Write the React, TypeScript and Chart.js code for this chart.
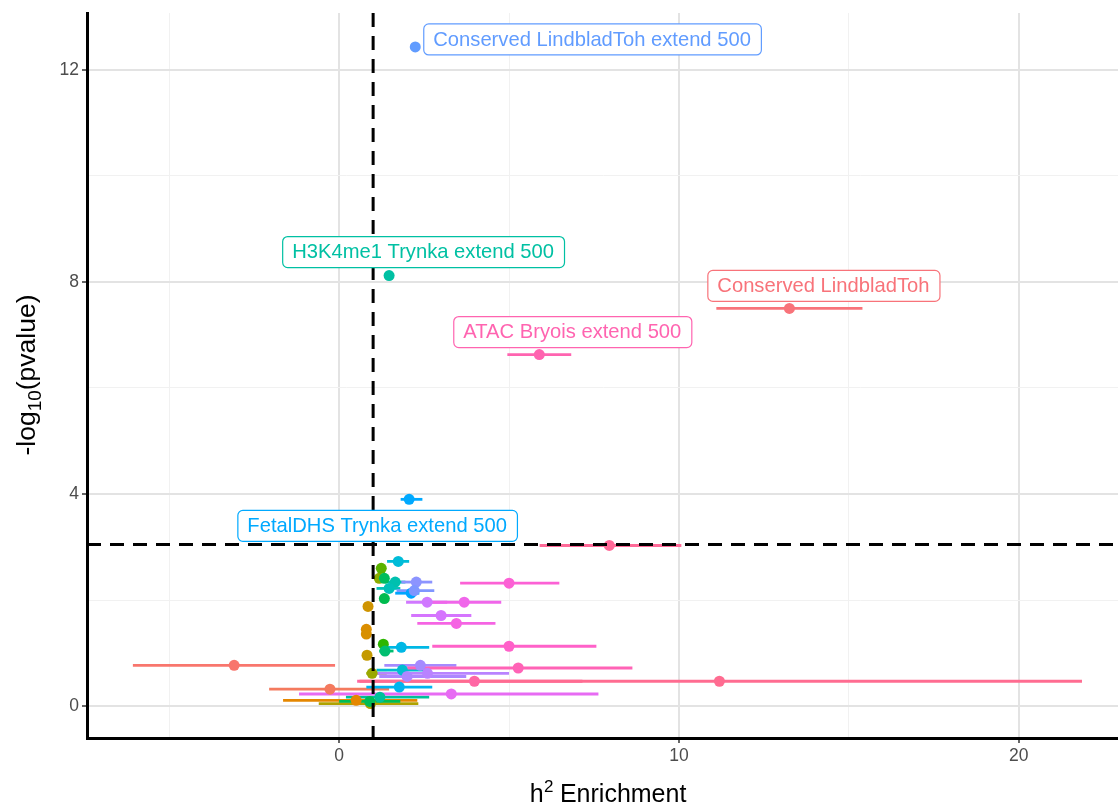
import React, { useEffect, useRef } from 'react';
import { Chart, registerables } from 'chart.js';

Chart.register(...registerables);

// ---------- data ----------
const enrichment = [
  -3.09, -0.27, 0.5, 0.85, 0.8, 0.8, 0.82, 0.92, 1.18, 0.97,
  1.24, 1.3, 1.33, 1.33, 1.35, 0.9, 1.47, 1.65, 1.47, 1.2,
  1.74, 1.83, 1.77, 1.86, 2.06, 2.12, 2.24, 2.27, 2.21, 2.39,
  2.6, 2.0, 2.59, 3.0, 3.3, 3.68, 3.45, 5.0, 5.0, 5.27,
  5.89, 3.98, 7.95, 11.19, 13.25,
];
const negLog10P = [
  0.77, 0.32, 0.11, 1.88, 1.45, 1.36, 0.96, 0.05, 2.41, 0.62,
  2.6, 1.17, 2.03, 2.41, 1.04, 0.09, 8.12, 2.34, 2.22, 0.17,
  2.73, 1.11, 0.36, 0.68, 3.9, 2.13, 12.43, 2.34, 2.18, 0.77,
  0.62, 0.56, 1.96, 1.71, 0.23, 1.96, 1.56, 2.32, 1.13, 0.72,
  6.63, 0.47, 3.03, 0.47, 7.5,
];
const enrichmentLow = [
  -6.07, -2.06, -1.65, 0.75, 0.72, 0.72, 0.74, -0.6, 1.1, 0.8,
  1.16, 1.2, 1.25, 1.25, 1.18, 0.0, 1.4, 1.35, 1.1, 0.2,
  1.41, 1.27, 0.8, 1.1, 1.81, 1.65, 2.2, 1.83, 1.69, 1.33,
  1.03, 1.18, 1.97, 2.12, -1.18, 2.65, 2.3, 3.56, 2.74, 2.0,
  4.95, 0.53, 5.9, 0.6, 11.1,
];
const enrichmentHigh = [
  -0.12, 1.47, 2.3, 0.95, 0.88, 0.88, 0.9, 2.33, 1.26, 1.4,
  1.32, 1.4, 1.41, 1.41, 1.6, 1.8, 1.55, 1.95, 1.8, 2.65,
  2.06, 2.65, 2.74, 2.6, 2.45, 2.36, 2.28, 2.74, 2.8, 3.45,
  5.0, 3.74, 3.18, 3.89, 7.63, 4.77, 4.6, 6.48, 7.57, 8.63,
  6.83, 7.16, 10.07, 21.86, 15.4,
];
const pointColors = [
  '#F8766D', '#F47A5E', '#E58700', '#CF9400', '#DB8E00', '#D89000', '#C49A00', '#AFA200', '#8CAB00', '#9AA800',
  '#5BB300', '#2DB600', '#00BB4E', '#00BD5C', '#00BE70', '#00BC56', '#00C0A3', '#00C0AF', '#00C0B8', '#00C19A',
  '#00BCD8', '#00B8E5', '#00B4EF', '#00BDD0', '#00A9FF', '#00A5FF', '#619CFF', '#8C94FF', '#7F96FF', '#A58AFF',
  '#B983FF', '#AD87FF', '#D078FF', '#D575FE', '#E76BF3', '#F066EA', '#F564E3', '#FC61D5', '#FF61C9', '#FF63B6',
  '#FF64B0', '#FF67A4', '#FF6A98', '#FF6C91', '#F8737A',
];

const labelTexts = [
  'Conserved LindbladToh extend 500',
  'H3K4me1 Trynka extend 500',
  'Conserved LindbladToh',
  'ATAC Bryois extend 500',
  'FetalDHS Trynka extend 500',
];
const labelPointIndex = [26, 16, 44, 40, 24];

const xTickValues = [-5, 0, 5, 10, 15, 20];
const xMajorTicks = [0, 10, 20];
const yTickValues = [0, 2, 4, 6, 8, 10, 12];
const yMajorTicks = [0, 4, 8, 12];

const enrichmentNull = 1;
const pThreshold = 3.05;

// ---------- styles ----------
const FONT = '"Liberation Sans", Arial, sans-serif';
// label box placement relative to its point (pixels): [anchor, dx, dy]
const labelPlacement: Array<[string, number, number]> = [
  ['left', 8, -8],
  ['center', 34, -24],
  ['center', 34, -23],
  ['center', 33, -23],
  ['center', -32, 26],
];

const errorBarPlugin = {
  id: 'errorBars',
  beforeDatasetsDraw(chart: any) {
    const { ctx, chartArea, scales } = chart;
    ctx.save();
    ctx.beginPath();
    ctx.rect(chartArea.left, chartArea.top, chartArea.right - chartArea.left, chartArea.bottom - chartArea.top);
    ctx.clip();
    ctx.lineWidth = 2.8;
    ctx.lineCap = 'butt';
    for (let i = 0; i < enrichment.length; i++) {
      const y = scales.y.getPixelForValue(negLog10P[i]);
      const x1 = scales.x.getPixelForValue(enrichmentLow[i]);
      const x2 = scales.x.getPixelForValue(enrichmentHigh[i]);
      ctx.strokeStyle = pointColors[i];
      ctx.beginPath();
      ctx.moveTo(x1, y);
      ctx.lineTo(x2, y);
      ctx.stroke();
    }
    ctx.restore();
  },
};

function roundRect(ctx: CanvasRenderingContext2D, x: number, y: number, w: number, h: number, r: number) {
  ctx.beginPath();
  ctx.moveTo(x + r, y);
  ctx.lineTo(x + w - r, y);
  ctx.arcTo(x + w, y, x + w, y + r, r);
  ctx.lineTo(x + w, y + h - r);
  ctx.arcTo(x + w, y + h, x + w - r, y + h, r);
  ctx.lineTo(x + r, y + h);
  ctx.arcTo(x, y + h, x, y + h - r, r);
  ctx.lineTo(x, y + r);
  ctx.arcTo(x, y, x + r, y, r);
  ctx.closePath();
}

const overlayPlugin = {
  id: 'overlay',
  afterDatasetsDraw(chart: any) {
    const { ctx, chartArea, scales } = chart;
    ctx.save();
    ctx.beginPath();
    ctx.rect(chartArea.left, chartArea.top, chartArea.right - chartArea.left, chartArea.bottom - chartArea.top);
    ctx.clip();
    // reference lines
    ctx.strokeStyle = '#000000';
    ctx.lineWidth = 3;
    ctx.setLineDash([14, 9]);
    const vx = scales.x.getPixelForValue(enrichmentNull);
    ctx.beginPath();
    ctx.moveTo(vx, chartArea.top);
    ctx.lineTo(vx, chartArea.bottom);
    ctx.stroke();
    const hy = scales.y.getPixelForValue(pThreshold);
    ctx.beginPath();
    ctx.moveTo(chartArea.left, hy);
    ctx.lineTo(chartArea.right, hy);
    ctx.stroke();
    ctx.setLineDash([]);
    ctx.restore();

    // labels
    ctx.save();
    ctx.font = `20.2px ${FONT}`;
    ctx.textBaseline = 'middle';
    ctx.textAlign = 'left';
    for (let k = 0; k < labelTexts.length; k++) {
      const i = labelPointIndex[k];
      const px = scales.x.getPixelForValue(enrichment[i]);
      const py = scales.y.getPixelForValue(negLog10P[i]);
      const [anchor, dx, dy] = labelPlacement[k];
      const tw = ctx.measureText(labelTexts[k]).width;
      const bw = tw + 20;
      const bh = 31;
      const cy = py + dy;
      const left = anchor === 'left' ? px + dx : px + dx - bw / 2;
      const top = cy - bh / 2;
      roundRect(ctx, left + 0.5, top + 0.5, bw, bh, 5);
      ctx.fillStyle = '#ffffff';
      ctx.fill();
      ctx.strokeStyle = pointColors[i];
      ctx.lineWidth = 1.2;
      ctx.stroke();
      ctx.fillStyle = pointColors[i];
      ctx.fillText(labelTexts[k], left + 10, cy + 1);
    }
    ctx.restore();
  },
  afterDraw(chart: any) {
    const { ctx } = chart;
    ctx.save();
    ctx.fillStyle = '#000000';
    ctx.textBaseline = 'alphabetic';
    // x title: h^2 Enrichment
    const big = `25px ${FONT}`;
    const small = `17px ${FONT}`;
    ctx.font = big;
    const wH = ctx.measureText('h').width;
    const wRest = ctx.measureText(' Enrichment').width;
    ctx.font = small;
    const w2 = ctx.measureText('2').width;
    const total = wH + w2 + wRest;
    const x0 = 608 - total / 2;
    const base = 802;
    ctx.font = big;
    ctx.textAlign = 'left';
    ctx.fillText('h', x0, base);
    ctx.font = small;
    ctx.fillText('2', x0 + wH + 0.5, base - 10);
    ctx.font = big;
    ctx.fillText(' Enrichment', x0 + wH + w2, base);

    // y title: -log10(pvalue)
    ctx.translate(35, 375);
    ctx.rotate(-Math.PI / 2);
    const bigY = `26.5px ${FONT}`;
    const smallY = `19px ${FONT}`;
    ctx.font = bigY;
    const a = ctx.measureText('-log').width;
    const c = ctx.measureText('(pvalue)').width;
    ctx.font = smallY;
    const b = ctx.measureText('10').width;
    const tot = a + b + c;
    const s = -tot / 2;
    ctx.font = bigY;
    ctx.fillText('-log', s, 0);
    ctx.font = smallY;
    ctx.fillText('10', s + a, 6);
    ctx.font = bigY;
    ctx.fillText('(pvalue)', s + a + b, 0);
    ctx.restore();
  },
};

export default function App() {
  const canvasRef = useRef<HTMLCanvasElement | null>(null);

  useEffect(() => {
    document.body.style.margin = '0';
    const canvas = canvasRef.current;
    if (!canvas) return;
    const chart = new Chart(canvas, {
      type: 'scatter',
      data: {
        datasets: [
          {
            data: enrichment.map((x, i) => ({ x, y: negLog10P[i] })),
            backgroundColor: pointColors,
            borderWidth: 0,
            pointRadius: 5.5,
            pointHoverRadius: 5.5,
          },
        ],
      },
      options: {
        responsive: false,
        animation: false,
        events: [],
        layout: { autoPadding: false, padding: { top: 13, right: 0, bottom: 0, left: 0 } },
        plugins: {
          legend: { display: false },
          tooltip: { enabled: false },
          title: { display: false },
        },
        scales: {
          x: {
            type: 'linear',
            min: -7.42,
            max: 22.92,
            afterFit(scale: any) {
              scale.height = 69;
              scale.paddingLeft = 0;
              scale.paddingRight = 0;
            },
            afterBuildTicks(scale: any) {
              scale.ticks = xTickValues.map((v) => ({ value: v }));
            },
            ticks: {
              autoSkip: false,
              maxRotation: 0,
              padding: 3,
              color: '#4D4D4D',
              font: { family: FONT, size: 17.5 },
              callback: (v: any) => (xMajorTicks.includes(Number(v)) ? String(v) : ''),
            },
            grid: {
              color: (c: any) => (xMajorTicks.includes(c.tick?.value) ? '#E3E3E3' : '#F1F1F1'),
              lineWidth: (c: any) => (xMajorTicks.includes(c.tick?.value) ? 2 : 1),
              tickColor: (c: any) => (xMajorTicks.includes(c.tick?.value) ? '#333333' : 'rgba(0,0,0,0)'),
              tickLength: 5,
              tickWidth: 1.5,
            },
            border: { display: true, color: '#000000', width: 3 },
          },
          y: {
            type: 'linear',
            min: -0.6,
            max: 13.07,
            afterFit(scale: any) {
              scale.width = 87;
              scale.paddingTop = 0;
              scale.paddingBottom = 0;
            },
            afterBuildTicks(scale: any) {
              scale.ticks = yTickValues.map((v) => ({ value: v }));
            },
            ticks: {
              autoSkip: false,
              padding: 3,
              color: '#4D4D4D',
              font: { family: FONT, size: 17.5 },
              callback: (v: any) => (yMajorTicks.includes(Number(v)) ? String(v) : ''),
            },
            grid: {
              color: (c: any) => (yMajorTicks.includes(c.tick?.value) ? '#E3E3E3' : '#F1F1F1'),
              lineWidth: (c: any) => (yMajorTicks.includes(c.tick?.value) ? 2 : 1),
              tickColor: (c: any) => (yMajorTicks.includes(c.tick?.value) ? '#333333' : 'rgba(0,0,0,0)'),
              tickLength: 5,
              tickWidth: 1.5,
            },
            border: { display: true, color: '#000000', width: 3 },
          },
        },
      } as any,
      plugins: [errorBarPlugin, overlayPlugin],
    });
    return () => chart.destroy();
  }, []);

  return (
    <div style={{ position: 'absolute', left: 0, top: 0, width: 1118, height: 807, background: '#ffffff' }}>
      <canvas ref={canvasRef} width={1118} height={807} style={{ display: 'block', width: 1118, height: 807 }} />
    </div>
  );
}
